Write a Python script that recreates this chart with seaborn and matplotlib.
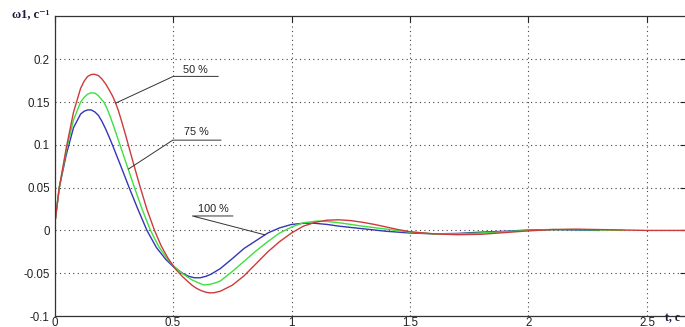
import numpy as np
import pandas as pd
import seaborn as sns
import matplotlib
matplotlib.use("Agg")
import matplotlib.pyplot as plt

# angular speed response
t_50 = [0, 0.02, 0.05, 0.08, 0.11, 0.125, 0.14, 0.155, 0.168, 0.185, 0.20, 0.215, 0.23, 0.245, 0.257, 0.27,
        0.285, 0.30, 0.33, 0.36, 0.39, 0.422, 0.45, 0.48, 0.51, 0.54, 0.58, 0.60, 0.62, 0.64, 0.655, 0.675,
        0.70, 0.75, 0.80, 0.85, 0.90, 0.95, 1.00, 1.05, 1.10, 1.15, 1.20, 1.25, 1.30, 1.35, 1.40, 1.45,
        1.50, 1.60, 1.70, 1.80, 1.90, 2.00, 2.10, 2.20, 2.30, 2.40, 2.50, 2.665]
w_50 = [0.005, 0.05, 0.097, 0.138, 0.166, 0.1745, 0.180, 0.1822, 0.1825, 0.181, 0.177, 0.1715, 0.1645,
        0.157, 0.1495, 0.1395, 0.1258, 0.1113, 0.0813, 0.052, 0.0245, 0.0, -0.018, -0.033, -0.045, -0.054,
        -0.064, -0.0678, -0.0705, -0.0723, -0.073, -0.0727, -0.071, -0.064, -0.053, -0.039, -0.025, -0.013,
        -0.003, 0.005, 0.0095, 0.012, 0.0124, 0.0115, 0.0095, 0.007, 0.004, 0.001, -0.0015, -0.004, -0.005,
        -0.0045, -0.0025, -0.0005, 0.001, 0.0015, 0.001, 0.0005, 0.0, 0.0]

t_75 = [0, 0.02, 0.05, 0.08, 0.11, 0.125, 0.14, 0.155, 0.17, 0.185, 0.20, 0.208, 0.22, 0.235, 0.25, 0.27,
        0.30, 0.335, 0.37, 0.405, 0.44, 0.47, 0.50, 0.54, 0.58, 0.605, 0.63, 0.655, 0.68, 0.70, 0.75, 0.80,
        0.85, 0.90, 0.95, 1.00, 1.05, 1.11, 1.15, 1.20, 1.25, 1.30, 1.40, 1.50, 1.60, 1.70, 1.80, 1.90,
        2.00, 2.10, 2.20, 2.30, 2.40]
w_75 = [0.005, 0.05, 0.094, 0.129, 0.150, 0.1555, 0.1593, 0.1608, 0.1605, 0.1575, 0.1525, 0.150, 0.1435,
        0.133, 0.1213, 0.105, 0.0805, 0.052, 0.0245, 0.0, -0.019, -0.031, -0.041, -0.0505, -0.0578, -0.061,
        -0.0637, -0.063, -0.0612, -0.059, -0.048, -0.036, -0.024, -0.013, -0.003, 0.004, 0.009, 0.011,
        0.0105, 0.009, 0.007, 0.005, 0.0015, -0.002, -0.004, -0.004, -0.003, -0.0015, 0.0, 0.001, 0.001,
        0.0005, 0.0]

t_100 = [0, 0.02, 0.05, 0.08, 0.11, 0.125, 0.14, 0.155, 0.17, 0.185, 0.20, 0.215, 0.23, 0.245, 0.28, 0.315,
         0.35, 0.39, 0.43, 0.47, 0.50, 0.54, 0.565, 0.59, 0.615, 0.64, 0.66, 0.70, 0.75, 0.80, 0.85, 0.90,
         0.95, 1.00, 1.057, 1.10, 1.15, 1.20, 1.30, 1.40, 1.50, 1.60, 1.70, 1.80, 1.90, 2.00, 2.10, 2.20,
         2.30]
w_100 = [0.005, 0.05, 0.089, 0.120, 0.136, 0.1393, 0.1408, 0.1408, 0.1385, 0.1345, 0.1275, 0.119, 0.1095,
         0.0995, 0.075, 0.050, 0.026, 0.0, -0.020, -0.034, -0.042, -0.050, -0.0535, -0.0553, -0.0553,
         -0.0535, -0.0512, -0.0445, -0.033, -0.021, -0.012, -0.003, 0.003, 0.007, 0.0085, 0.0083, 0.007,
         0.005, 0.002, -0.001, -0.003, -0.004, -0.0035, -0.002, -0.001, 0.0005, 0.001, 0.0005, 0.0]

series_labels = ["50 %", "75 %", "100 %"]
colors = {"50 %": "#cc3b3b", "75 %": "#3ee03e", "100 %": "#3535b8"}

x_ticks = [0, 0.5, 1, 1.5, 2, 2.5]
y_ticks = [-0.1, -0.05, 0, 0.05, 0.1, 0.15, 0.2]

# label placement: (text x, text y, underline x0, x1, underline y, point on curve t)
label_pos = {
    "50 %": (0.595, 0.188, 0.501, 0.691, 0.180, 0.258),
    "75 %": (0.597, 0.1145, 0.499, 0.703, 0.1055, 0.311),
    "100 %": (0.67, 0.0256, 0.582, 0.753, 0.0169, 0.888),
}

frames = []
for lab, t, w in zip(series_labels, [t_50, t_75, t_100], [w_50, w_75, w_100]):
    frames.append(pd.DataFrame({"t": t, "w": w, "series": lab}))
df = pd.concat(frames, ignore_index=True)

sns.set_style("white")
plt.rcParams["axes.unicode_minus"] = False
plt.rcParams["font.family"] = ["Liberation Sans", "DejaVu Sans"]

fig = plt.figure(figsize=(6.85, 3.27), dpi=100)
ax = fig.add_axes([0.0796, 0.0336, 0.922, 0.916])

# blue first, red last so red sits on top like the original
for lab in ["100 %", "75 %", "50 %"]:
    sns.lineplot(data=df[df["series"] == lab], x="t", y="w", color=colors[lab],
                 linewidth=1.0, estimator=None, sort=False, ax=ax, legend=False)

ax.set_xlim(0, 2.665)
ax.set_ylim(-0.1, 0.25)
ax.set_xticks(x_ticks)
ax.set_xticklabels(["0", "0.5", "1", "1.5", "2", "2.5"])
ax.set_yticks(y_ticks)
ax.set_yticklabels(["-0.1", "-0.05", "0", "0.05", "0.1", "0.15", "0.2"])
ax.set_xlabel("")
ax.set_ylabel("")
ax.grid(True, linestyle=(0, (1, 3)), color="#444444", linewidth=0.8)
ax.tick_params(direction="in", top=True, right=True, length=4, width=0.8,
               labelsize=8.3, colors="#222222")
ax.tick_params(axis="y", pad=3.5)
ax.tick_params(axis="x", pad=1)
for sp in ax.spines.values():
    sp.set_color("#333333")
    sp.set_linewidth(0.9)

curves = {"50 %": (t_50, w_50), "75 %": (t_75, w_75), "100 %": (t_100, w_100)}
for lab, (tx, ty, ux0, ux1, uy, tc) in label_pos.items():
    tt, ww = curves[lab]
    yc = np.interp(tc, tt, ww)
    ax.plot([tc, ux0, ux1], [yc, uy, uy], color="#333333", linewidth=0.7)
    ax.text(tx, ty, lab, ha="center", va="center", fontsize=7.8, color="#222222")

fig.text(0.017, 0.957, "ω1, c⁻¹", fontsize=9, fontweight="bold", color="#1a1a3a",
         family=["Liberation Serif", "DejaVu Serif"], ha="left", va="center")
fig.text(0.971, 0.026, "t, c", fontsize=8.5, fontweight="bold", color="#1a1a3a",
         family=["Liberation Serif", "DejaVu Serif"], ha="left", va="center")

fig.savefig("out.png", dpi=100)
